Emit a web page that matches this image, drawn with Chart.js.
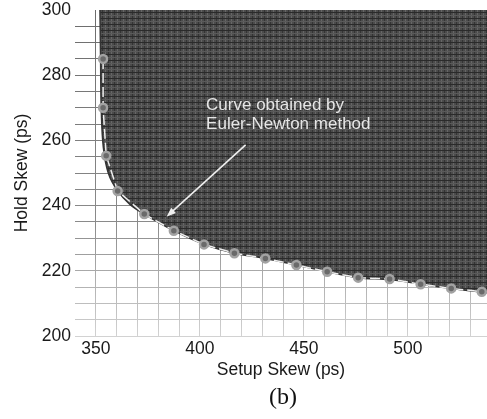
<!DOCTYPE html>
<html>
<head>
<meta charset="utf-8">
<script src="https://cdn.jsdelivr.net/npm/chart.js@4/dist/chart.umd.min.js"></script>
<style>
html,body{margin:0;padding:0;background:#fff;overflow:hidden}
#wrap{width:487px;height:419px}
canvas{display:block}
</style>
</head>
<body>
<div id="wrap"><canvas id="chart" width="487" height="419"></canvas></div>
<script>
/* DATA */
const setupSkew=[353.5,353.5,355,360.5,373.3,387.5,402,416.6,431.5,446.4,461.2,476.1,491.2,506.1,520.8,535.5];
const holdSkew=[285,270,255.3,244.5,237.4,232.3,228.1,225.4,223.8,221.8,219.7,217.9,217.5,215.9,214.6,213.6];

// boundary of the dark (failing) region
const regionX=[352,352.3,352.6,353.6,356,360.5,366.5,373.3,387.5,402,416.6,431.5,446.4,461.2,476.1,491.2,506.1,520.8,538];
const regionY=[300,285,270,258,250,244.5,240.3,237.4,232.3,228.1,225.4,223.8,221.8,219.7,217.9,217.3,215.9,214.6,213.3];

const xTickLabels=[350,400,450,500];
const yTickLabels=[200,220,240,260,280,300];

const noteLines=["Curve obtained by","Euler-Newton method"];
const noteAt={x:403,y:[270.9,264.9]};
const arrowFrom={x:422,y:258.6};
const arrowTo={x:384,y:236.6};

/* PATTERN for the dark region */
function hatch(){
let p=document.createElement("canvas");
p.width=6;p.height=6;
let g=p.getContext("2d");
g.fillStyle="#4b4b4b";g.fillRect(0,0,6,6);
g.fillStyle="#343434";g.fillRect(0,0,1,6);
g.fillStyle="#666666";g.fillRect(3,0,1,6);
g.fillStyle="#2a2a2a";g.fillRect(0,0,6,1);
g.fillStyle="#5a5a5a";g.fillRect(0,3,6,1);
return g.createPattern(p,"repeat");
}

function gridShade(ctx){
const a=ctx.chart.chartArea;
if(!a) return "#999";
const gr=ctx.chart.ctx.createLinearGradient(0,a.top,0,a.bottom);
gr.addColorStop(0,"#6c6c6c");
gr.addColorStop(0.65,"#8a8a8a");
gr.addColorStop(1,"#d2d2d2");
return gr;
}

const font="'Liberation Sans', Arial, Helvetica, sans-serif";

/* ANNOTATION + (b) */
const notes={
id:"notes",
afterDatasetsDraw(chart){
const c=chart.ctx,xs=chart.scales.x,ys=chart.scales.y;
c.save();
c.fillStyle="#e6e6e6";
c.font="17px "+font;
c.textBaseline="middle";
c.textAlign="left";
noteLines.forEach((t,i)=>{
c.fillText(t,xs.getPixelForValue(noteAt.x),ys.getPixelForValue(noteAt.y[i]));
});
let x1=xs.getPixelForValue(arrowFrom.x),y1=ys.getPixelForValue(arrowFrom.y);
let x2=xs.getPixelForValue(arrowTo.x),y2=ys.getPixelForValue(arrowTo.y);
let ang=Math.atan2(y2-y1,x2-x1);
c.strokeStyle="#eeeeee";
c.lineWidth=1.6;
c.beginPath();
c.moveTo(x1,y1);
c.lineTo(x2-6*Math.cos(ang),y2-6*Math.sin(ang));
c.stroke();
c.fillStyle="#eeeeee";
c.beginPath();
c.moveTo(x2,y2);
c.lineTo(x2-10*Math.cos(ang-0.35),y2-10*Math.sin(ang-0.35));
c.lineTo(x2-10*Math.cos(ang+0.35),y2-10*Math.sin(ang+0.35));
c.closePath();
c.fill();
c.restore();
},
afterDraw(chart){
const c=chart.ctx,a=chart.chartArea;
c.save();
c.fillStyle="#111";
c.font="24px 'Liberation Serif', 'Times New Roman', serif";
c.textAlign="center";
c.textBaseline="middle";
c.fillText("(b)",(a.left+a.right)/2+2,398);
c.restore();
}
};

const pts=setupSkew.map((v,i)=>({x:v,y:holdSkew[i]}));
const region=regionX.map((v,i)=>({x:v,y:regionY[i]}));

new Chart(document.getElementById("chart"),{
type:"line",
data:{
datasets:[
{
label:"Euler-Newton",
data:pts,
order:0,
borderColor:"#eeeeee",
borderWidth:1.5,
borderDash:[10,4],
tension:0,
fill:false,
pointRadius:4,
pointBackgroundColor:"#6a6a6a",
pointBorderColor:"#a2a2a2",
pointBorderWidth:2.5
},
{
label:"region",
data:region,
order:1,
borderColor:"#333333",
borderWidth:1.5,
tension:0.35,
pointRadius:0,
fill:"end",
backgroundColor:hatch()
}
]
},
options:{
responsive:false,
animation:false,
devicePixelRatio:1,
layout:{padding:0,autoPadding:false},
plugins:{legend:{display:false},tooltip:{enabled:false}},
scales:{
x:{
type:"linear",
min:340,max:538,
border:{display:false},
grid:{color:gridShade,lineWidth:1,drawTicks:false},
ticks:{
stepSize:10,
includeBounds:false,
padding:3,
maxRotation:0,
autoSkip:false,
color:"#1a1a1a",
font:{family:font,size:17.5},
callback:v=>xTickLabels.includes(v)?String(v):""
},
afterBuildTicks:s=>{s.ticks=s.ticks.filter(t=>t.value>=350&&t.value<=530);},
afterFit:s=>{s.height=83;s.paddingLeft=0;s.paddingRight=0;},
title:{display:true,text:"Setup Skew (ps)",color:"#1a1a1a",font:{family:font,size:17.5},padding:{top:0,bottom:38.5}}
},
y:{
min:200,max:300,
border:{display:false},
grid:{
color:ctx=>ctx.tick&&ctx.tick.value===300?"rgba(0,0,0,0)":gridShade(ctx),
lineWidth:1,drawTicks:false
},
ticks:{
stepSize:5,
padding:4,
autoSkip:false,
color:"#1a1a1a",
font:{family:font,size:17.5},
callback:v=>yTickLabels.includes(v)?String(v):""
},
afterFit:s=>{s.width=75;s.paddingTop=10;s.paddingBottom=0;},
title:{display:true,text:"Hold Skew (ps)",color:"#1a1a1a",font:{family:font,size:17.5},padding:{top:11.5,bottom:0}}
}
}
},
plugins:[notes]
});
</script>
</body>
</html>
